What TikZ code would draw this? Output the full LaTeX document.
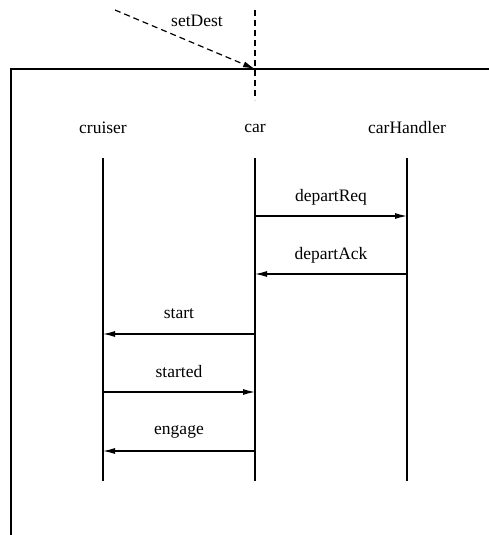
\documentclass[tikz,border=0pt]{standalone}
\usepackage{fontspec}
\setmainfont{Liberation Serif}
\usetikzlibrary{arrows.meta}
\begin{document}
\begin{tikzpicture}[x=1pt,y=-1pt,
  lbl/.style={font=\fontsize{17.5}{20}\selectfont, inner sep=0pt},
  lifeline/.style={line width=1.2pt},
  msg/.style={line width=1.2pt, -{Latex[length=12pt,width=6pt]}},
  envline/.style={line width=1.2pt, dash pattern=on 6pt off 4pt},
  frame/.style={line width=1.4pt}]
\useasboundingbox (0,0) rectangle (489,535);
% object headers
\node[lbl] (hcruiser) at (103,128) {cruiser};
\node[lbl] (hcar) at (255,128) {car};
\node[lbl] (hhandler) at (407,128) {carHandler};
% lifeline ends
\coordinate (cruiserT) at (103,158);
\coordinate (cruiserB) at (103,481);
\coordinate (carT) at (255,158);
\coordinate (carB) at (255,481);
\coordinate (handlerT) at (407,158);
\coordinate (handlerB) at (407,481);
\draw[lifeline] (cruiserT) -- (cruiserB);
\draw[lifeline] (carT) -- (carB);
\draw[lifeline] (handlerT) -- (handlerB);
% environment frame
\coordinate (frameTL) at (11,69);
\coordinate (frameTR) at (489,69);
\coordinate (frameBL) at (11,535);
\draw[frame] (frameTR) -- (frameTL) -- (frameBL);
% incoming message from the environment
\coordinate (envTop) at (255,10);
\coordinate (envBot) at (255,100);
\coordinate (entry) at (255,69);
\coordinate (src) at (115,10);
\draw[envline] (envTop) -- (envBot);
\draw[envline, -{Latex[length=12pt,width=6pt]}] (src) -- (entry);
\node[lbl] (lsetDest) at (197,21) {setDest};
% messages
\coordinate (m1a) at (255,216); \coordinate (m1b) at (407,216);
\coordinate (m2a) at (407,274); \coordinate (m2b) at (255,274);
\coordinate (m3a) at (255,334); \coordinate (m3b) at (103,334);
\coordinate (m4a) at (103,392); \coordinate (m4b) at (255,392);
\coordinate (m5a) at (255,451); \coordinate (m5b) at (103,451);
\draw[msg] (m1a) -- (m1b);
\draw[msg] (m2a) -- (m2b);
\draw[msg] (m3a) -- (m3b);
\draw[msg] (m4a) -- (m4b);
\draw[msg] (m5a) -- (m5b);
\node[lbl] (l1) at (331,197) {departReq};
\node[lbl] (l2) at (331,255) {departAck};
\node[lbl] (l3) at (179,314) {start};
\node[lbl] (l4) at (179,372) {started};
\node[lbl] (l5) at (179,432) {engage};
\end{tikzpicture}
\end{document}
